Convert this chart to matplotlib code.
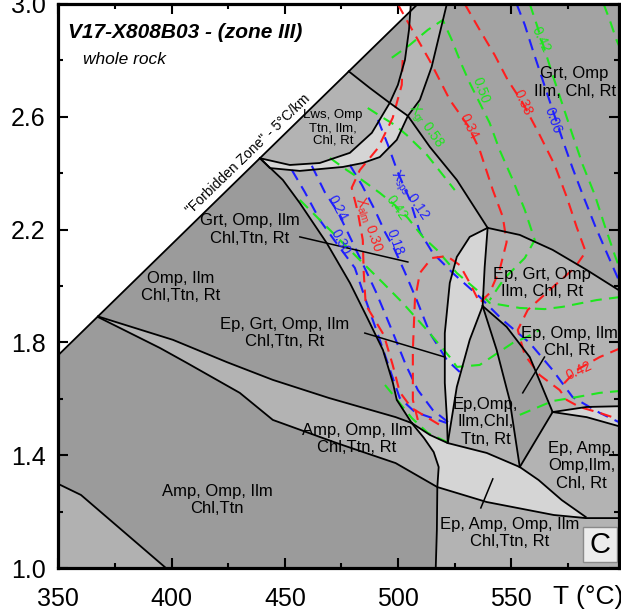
import numpy as np
import matplotlib
matplotlib.use('Agg')
import matplotlib.pyplot as plt
from matplotlib.patches import Rectangle

plt.rcParams['font.family'] = 'Liberation Sans'
plt.rcParams['mathtext.fontset'] = 'custom'
plt.rcParams['mathtext.rm'] = 'Liberation Sans'

# ---- field boundaries, T (degC) / P (GPa) ----
forbid_T = [350.0, 508.7]
forbid_P = [1.755, 3.0]
corner_T = [350.0, 360.0, 397.5]
corner_P = [1.298, 1.259, 1.0]
bandU_T = [367.5, 400.6, 424.4, 444.7, 469.4, 498.9, 506.0]
bandU_P = [1.892, 1.809, 1.730, 1.667, 1.603, 1.535, 1.514]
bandL_T = [367.5, 394.9, 406.8, 430.1, 444.7, 472.9, 498.9, 517.3, 539.1, 568.7, 582.8, 600.0]
bandL_P = [1.890, 1.780, 1.727, 1.621, 1.525, 1.443, 1.372, 1.287, 1.234, 1.188, 1.177, 1.177]
curveC_T = [439.0, 449.1, 456.6, 468.5, 478.7, 486.2, 493.3, 497.7, 499.4, 506.0]
curveC_P = [2.453, 2.376, 2.294, 2.152, 2.011, 1.890, 1.773, 1.656, 1.596, 1.514]
vert_T = [506.0, 511.4, 515.7, 517.9, 517.3, 517.1, 516.6]
vert_P = [1.514, 1.461, 1.411, 1.358, 1.287, 1.135, 1.0]
lens_T = [506.0, 514.0, 521.9, 539.1, 553.7, 562.0, 572.2, 582.8]
lens_P = [1.514, 1.472, 1.443, 1.408, 1.358, 1.312, 1.241, 1.181]
inner_T = [505.6, 504.8, 503.0, 499.9, 496.3, 488.4, 478.7, 465.4, 452.2, 439.0]
inner_P = [3.0, 2.908, 2.801, 2.713, 2.649, 2.543, 2.472, 2.436, 2.429, 2.453]
outer_T = [521.5, 518.4, 514.8, 509.6, 504.3, 499.4, 491.9, 484.4, 475.6, 456.6, 443.4, 439.0]
outer_P = [3.0, 2.897, 2.777, 2.660, 2.603, 2.518, 2.457, 2.436, 2.422, 2.408, 2.418, 2.453]
long_T = [478.2, 487.5, 496.3, 504.3, 514.0, 525.9, 539.5]
long_P = [2.761, 2.702, 2.649, 2.603, 2.493, 2.376, 2.206]
ego_T = [539.5, 553.7, 568.2, 583.2, 600.0]
ego_P = [2.206, 2.181, 2.128, 2.057, 1.972]
stripL_T = [539.5, 531.6, 525.9, 522.8, 520.6, 520.6, 521.5, 521.9]
stripL_P = [2.206, 2.174, 2.103, 2.011, 1.833, 1.656, 1.535, 1.443]
stripR_T = [539.5, 538.2, 537.3, 531.6, 525.9, 521.9]
stripR_P = [2.206, 2.067, 1.929, 1.809, 1.642, 1.443]
mright_T = [537.3, 543.5, 549.2, 553.7]
mright_P = [1.929, 1.773, 1.596, 1.358]
mn_T = [537.3, 547.9, 558.1, 568.2]
mn_P = [1.929, 1.855, 1.748, 1.553]
nup_T = [568.2, 583.2, 600.0]
nup_P = [1.553, 1.571, 1.574]
nlow_T = [568.2, 583.2, 600.0]
nlow_P = [1.553, 1.535, 1.497]
nlens_T = [568.2, 553.7]
nlens_P = [1.553, 1.358]

# ---- isopleths ----
b030_T = [453.1, 458.8, 465.4, 473.4, 480.9, 485.7, 491.9, 497.2, 500.7, 507.4, 521.5]
b030_P = [2.411, 2.333, 2.234, 2.145, 2.064, 1.950, 1.809, 1.684, 1.603, 1.553, 1.514]
b024_T = [461.9, 467.6, 473.4, 478.7, 484.0, 490.2, 497.2, 503.4, 508.7, 515.3, 523.7]
b024_P = [2.426, 2.333, 2.262, 2.174, 2.085, 1.979, 1.844, 1.720, 1.631, 1.560, 1.507]
b018_T = [478.7, 484.0, 489.7, 494.2, 498.5, 502.9, 508.2, 514.0, 521.5, 527.2]
b018_P = [2.429, 2.358, 2.270, 2.191, 2.128, 2.050, 1.950, 1.833, 1.738, 1.695]
b012_T = [491.1, 495.5, 499.8, 505.2, 509.6, 515.3, 524.1, 536.0, 546.2, 558.1, 568.2, 577.0, 589.0, 598.3]
b012_P = [2.589, 2.500, 2.404, 2.305, 2.191, 2.117, 2.046, 1.961, 1.879, 1.798, 1.702, 1.606, 1.550, 1.514]
b006_T = [552.3, 555.9, 559.4, 563.8, 568.2, 572.6, 577.0, 581.5, 586.8, 592.5, 598.3]
b006_P = [3.0, 2.926, 2.837, 2.730, 2.624, 2.518, 2.418, 2.323, 2.216, 2.110, 2.004]

r030_T = [502.0, 501.6, 497.6, 491.1, 483.1, 479.5, 482.2, 484.4, 484.8, 485.7, 493.7, 497.6, 500.7, 506.0, 518.4]
r030_P = [2.801, 2.713, 2.596, 2.489, 2.411, 2.348, 2.262, 2.163, 2.050, 1.933, 1.826, 1.720, 1.624, 1.567, 1.507]
r034_T = [499.8, 506.0, 514.0, 522.8, 531.2, 536.0, 541.8, 546.2, 547.9, 544.8, 540.4, 536.0, 531.6, 527.2,
          521.5, 514.8, 509.6, 507.4, 506.5, 506.5, 508.7]
r034_P = [3.0, 2.911, 2.798, 2.660, 2.564, 2.482, 2.340, 2.245, 2.156, 2.057, 1.975, 1.940, 2.011, 2.074,
          2.106, 2.099, 2.046, 1.950, 1.773, 1.596, 1.525]
r038_T = [529.4, 536.0, 542.6, 548.4, 555.0, 562.5, 569.1, 574.4, 578.8, 582.8, 577.9, 566.9, 557.2, 552.8,
          555.9, 562.5, 571.3, 574.4, 580.1, 589.0, 598.3]
r038_P = [3.0, 2.908, 2.819, 2.730, 2.649, 2.535, 2.429, 2.316, 2.209, 2.121, 2.064, 1.986, 1.915, 1.844,
          1.755, 1.684, 1.631, 1.596, 1.571, 1.550, 1.525]
r042_T = [598.3, 589.0, 578.8, 571.3]
r042_P = [1.780, 1.748, 1.702, 1.638]

g058_T = [486.6, 492.8, 498.5, 503.8, 512.7, 519.7, 525.0]
g058_P = [2.631, 2.599, 2.571, 2.535, 2.465, 2.394, 2.340]
g050_T = [497.2, 505.2, 513.1, 519.7, 523.7, 527.7, 531.6, 536.0, 540.4, 544.8, 550.6, 555.9, 560.3, 555.9, 547.0, 540.4]
g050_P = [2.809, 2.855, 2.908, 2.943, 2.872, 2.791, 2.720, 2.649, 2.578, 2.482, 2.376, 2.270, 2.163, 2.099, 2.028, 1.950]
g042c_T = [469.9, 477.3, 484.0, 491.9, 498.5, 504.3, 510.9, 517.1, 525.9, 534.7, 540.4, 553.7, 564.7, 572.6, 587.6, 598.3]
g042c_P = [2.454, 2.411, 2.376, 2.330, 2.287, 2.241, 2.174, 2.128, 2.046, 1.986, 1.940, 1.922, 1.918, 1.926, 1.950, 1.961]
gA_T = [456.6, 471.2, 483.1, 493.3, 502.0, 512.7, 522.8, 525.9, 536.0, 550.6, 556.8, 562.5]
gA_P = [2.305, 2.188, 2.092, 2.011, 1.940, 1.844, 1.748, 1.713, 1.720, 1.798, 1.819, 1.844]
gL_T = [494.2, 500.7, 506.0, 513.1, 521.5]
gL_P = [1.649, 1.585, 1.532, 1.479, 1.447]
gR_T = [553.7, 568.2, 578.8, 589.0, 598.3]
gR_P = [1.543, 1.592, 1.606, 1.621, 1.628]
g042_T = [558.1, 561.2, 564.7, 568.2, 572.6, 577.0, 581.5, 586.8, 591.1, 595.6, 598.3]
g042_P = [3.0, 2.926, 2.837, 2.748, 2.642, 2.535, 2.429, 2.323, 2.216, 2.110, 2.050]
gfar_T = [590.7, 593.4, 596.4, 598.3]
gfar_P = [3.0, 2.943, 2.872, 2.837]

# ---- labels ----
field_text = ['Grt, Omp\nIlm, Chl, Rt', 'Omp, Ilm\nChl,Ttn, Rt', 'Grt, Omp, Ilm\nChl,Ttn, Rt',
              'Ep, Grt, Omp, Ilm\nChl,Ttn, Rt', 'Amp, Omp, Ilm\nChl,Ttn, Rt', 'Amp, Omp, Ilm\nChl,Ttn',
              'Ep, Grt, Omp\nIlm, Chl, Rt', 'Ep, Omp, Ilm\nChl, Rt', 'Ep,Omp,\nIlm,Chl,\nTtn, Rt',
              'Ep, Amp,\nOmp,Ilm,\nChl, Rt', 'Ep, Amp, Omp, Ilm\nChl,Ttn, Rt']
field_T = [577.9, 404.2, 434.5, 450.0, 481.8, 420.0, 563.4, 575.7, 538.7, 581.0, 549.3]
field_P = [2.722, 1.996, 2.200, 1.833, 1.457, 1.241, 2.011, 1.801, 1.518, 1.362, 1.124]
lws_text = 'Lws, Omp\nTtn, Ilm,\nChl, Rt'
lws_T, lws_P = 471.2, 2.560

iso_text = [r'X$_{\rm alm}$ 0.30', '0.34', '0.38', '0.42',
            r'X$_{\rm sps}$ 0.12', '0.24', '0.30', '0.18', '0.06',
            r'X$_{\rm gr}$ 0.58', '0.42', '0.50', '0.42']
iso_color = ['r', 'r', 'r', 'r', 'b', 'b', 'b', 'b', 'b', 'g', 'g', 'g', 'g']
iso_T = [486.7, 531.2, 555.0, 580.1, 504.7, 473.4, 474.3, 498.5, 568.2, 511.8, 499.4, 536.5, 563.0]
iso_P = [2.216, 2.564, 2.649, 1.699, 2.319, 2.277, 2.156, 2.156, 2.589, 2.567, 2.277, 2.695, 2.872]
iso_rot = [-71, -65, -65, 25, -56, -62, -62, -70, -70, -55, -55, -70, -65]

leader_T = [[456.6, 504.3], [485.3, 520.6], [564.6, 555.0], [541.8, 536.5]]
leader_P = [[2.174, 2.085], [1.833, 1.748], [1.748, 1.621], [1.316, 1.213]]

dark = '#9b9b9b'
mid = '#b3b3b3'
light = '#d5d5d5'
top = '#a3a3a3'
cols = {'r': '#ff1e1e', 'b': '#1e1eff', 'g': '#1ee61e'}


def xy(T, P):
    return np.column_stack([T, P])


forbid = xy(forbid_T, forbid_P)
inner = xy(inner_T, inner_P)
outer = xy(outer_T, outer_P)
longl = xy(long_T, long_P)
ego = xy(ego_T, ego_P)
C = xy(curveC_T, curveC_P)
L5 = xy(vert_T, vert_P)
U = xy(bandU_T, bandU_P)
L4 = xy(bandL_T, bandL_P)
lens = xy(lens_T, lens_P)
S = xy(stripL_T, stripL_P)
SR = xy(stripR_T, stripR_P)
MR = xy(mright_T, mright_P)
MN = xy(mn_T, mn_P)
NU = xy(nup_T, nup_P)
NL = xy(nlow_T, nlow_P)

polys = [
    (np.array([[350, 1.0], [600, 1.0], [600, 3.0], forbid[1], forbid[0]]), dark),
    (np.vstack([xy(corner_T, corner_P), [[350, 1.0]]]), '#b1b1b1'),
    (np.vstack([C, L5[1:], [[600, 1.0]], ego[::-1], longl[5:2:-1], outer[5:]]), mid),
    (np.vstack([U, L5[1:5], L4[6::-1]]), mid),
    (np.vstack([outer[:5], longl[4:], ego[1:], [[600, 3.0]]]), top),
    (np.vstack([longl[:1], forbid[1:], inner[:5], longl[1:2]]), top),
    (np.vstack([longl[:3], inner[5:]]), mid),
    (np.vstack([inner[:5], longl[3:4], outer[3::-1]]), '#b7b7b7'),
    (np.vstack([inner[4:], outer[:3:-1]]), light),
    (np.vstack([S, SR[-2:0:-1]]), light),
    (np.vstack([MN, MR[:0:-1][:1], MR[-2:0:-1]]), '#a0a0a0'),
    (np.vstack([NU, NL[:0:-1]]), light),
    (np.vstack([lens, L4[9:6:-1], L5[3:0:-1]]), light),
]

fig = plt.figure(figsize=(6.21, 6.14), dpi=100)
ax = fig.add_axes([0.0939, 0.0749, 0.9029, 0.9187])
ax.set_facecolor('white')

for p, c in polys:
    ax.fill(p[:, 0], p[:, 1], color=c, lw=0, zorder=1)

dash = (0, (5.5, 3.5))
iso = [(b030_T, b030_P, 'b'), (b024_T, b024_P, 'b'), (b018_T, b018_P, 'b'), (b012_T, b012_P, 'b'),
       (b006_T, b006_P, 'b'), (g058_T, g058_P, 'g'), (g050_T, g050_P, 'g'), (g042c_T, g042c_P, 'g'),
       (gA_T, gA_P, 'g'), (gL_T, gL_P, 'g'), (gR_T, gR_P, 'g'), (g042_T, g042_P, 'g'),
       (gfar_T, gfar_P, 'g'), (r030_T, r030_P, 'r'), (r034_T, r034_P, 'r'), (r038_T, r038_P, 'r'),
       (r042_T, r042_P, 'r')]
for T, P, c in iso:
    ax.plot(T, P, color=cols[c], lw=1.5, ls=dash, zorder=3)

lines = [forbid, xy(corner_T, corner_P), U, L4, C, L5, lens, inner, outer, longl, ego, S, SR, MR, MN,
         NU, NL, xy(nlens_T, nlens_P)]
for ln in lines:
    ax.plot(ln[:, 0], ln[:, 1], color='k', lw=1.3, zorder=4, solid_joinstyle='round')
for T, P in zip(leader_T, leader_P):
    ax.plot(T, P, color='k', lw=1.1, zorder=4)

for s, T, P in zip(field_text, field_T, field_P):
    ax.text(T, P, s, fontsize=12, ha='center', va='center', multialignment='center',
            linespacing=1.2, zorder=6)
ax.text(lws_T, lws_P, lws_text, fontsize=9.5, ha='center', va='center', multialignment='center',
        linespacing=1.1, zorder=6)
for s, c, T, P, r in zip(iso_text, iso_color, iso_T, iso_P, iso_rot):
    ax.text(T, P, s, color=cols[c], fontsize=10, rotation=r, ha='center', va='center',
            rotation_mode='anchor', zorder=6)

ax.text(433.9, 2.466, '"Forbidden Zone" - 5°C/km', fontsize=10, rotation=44,
        ha='center', va='center', rotation_mode='anchor', zorder=6)

ax.text(0.017, 0.9397, 'V17-X808B03 - (zone III)', transform=ax.transAxes, fontsize=15,
        fontweight='bold', fontstyle='italic', va='baseline', zorder=6)
ax.text(0.044, 0.8936, 'whole rock', transform=ax.transAxes, fontsize=12.5,
        fontstyle='italic', va='baseline', zorder=6)

ax.add_patch(Rectangle((0.936, 0.0106), 0.0606, 0.062, transform=ax.transAxes,
                       fc='#ececec', ec='#8a8a8a', lw=1, zorder=6))
ax.text(0.966, 0.0415, 'C', transform=ax.transAxes, fontsize=21, ha='center', va='center', zorder=7)

ax.set_xlim(350, 597.5)
ax.set_ylim(1.0, 3.0)
ax.set_xticks([350, 400, 450, 500, 550])
ax.set_xticks([375, 425, 475, 525, 575], minor=True)
ax.set_yticks([1.0, 1.4, 1.8, 2.2, 2.6, 3.0])
ax.set_yticklabels(['1.0', '1.4', '1.8', '2.2', '2.6', '3.0'])
ax.set_yticks([1.2, 1.6, 2.0, 2.4, 2.8], minor=True)
ax.tick_params(which='both', direction='in', top=True, right=True, width=1.5, labelsize=18)
ax.tick_params(axis='x', which='major', pad=14)
ax.tick_params(axis='y', which='major', pad=9)
ax.tick_params(which='major', length=7.5)
ax.tick_params(which='minor', length=3.8)
for sp in ax.spines.values():
    sp.set_linewidth(2.3)
    sp.set_zorder(8)

fig.text(0.890, 0.016, 'T (°C)', fontsize=19, va='baseline')

fig.savefig('out.png', dpi=100)
